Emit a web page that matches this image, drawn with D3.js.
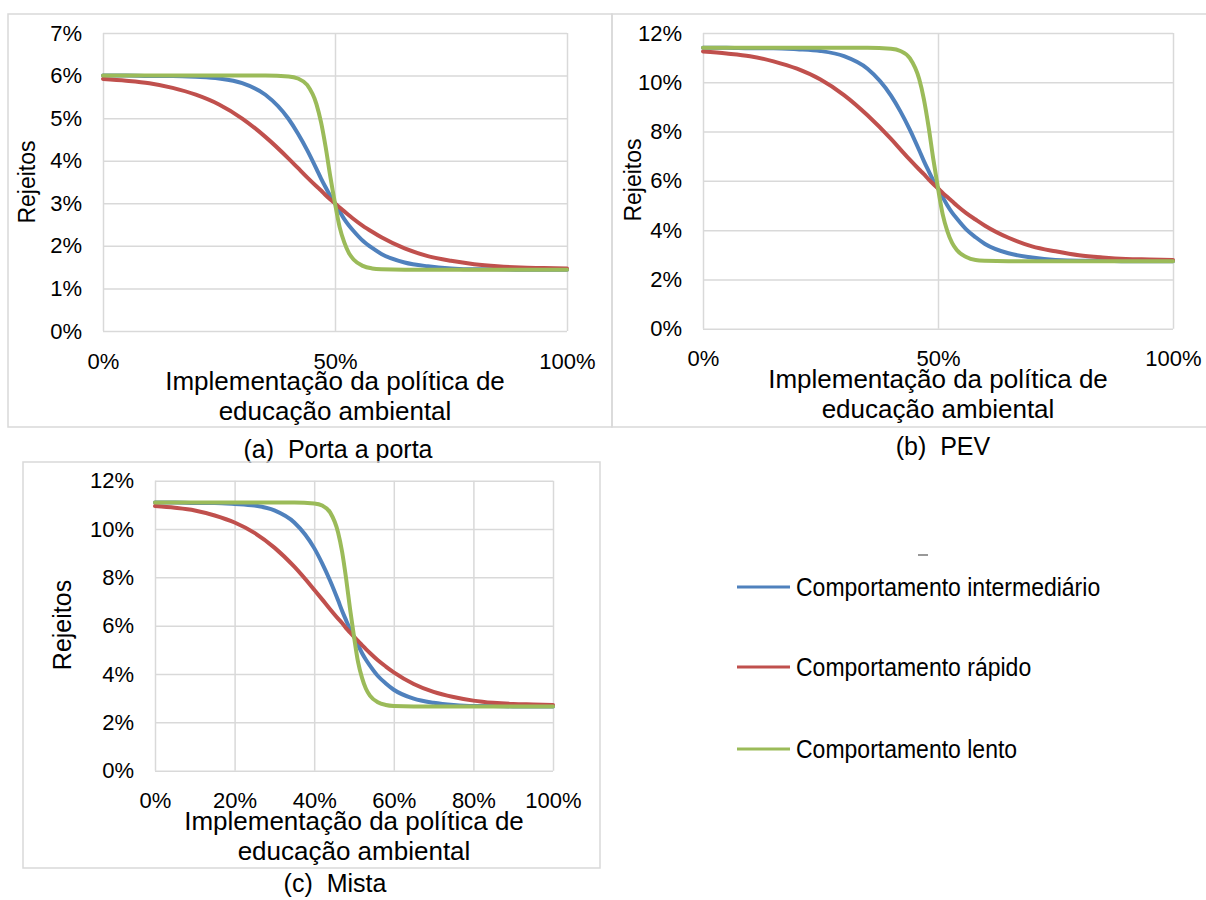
<!DOCTYPE html>
<html lang="pt">
  <head>
    <title>Rejeitos x educação ambiental</title>
    <meta charset="utf-8" />
    <script type="text/javascript" src="https://d3js.org/d3.v7.min.js"></script>
    <style>
      body { margin: 0; background: #fff; }
      text { font-family: "Liberation Sans", Arial, sans-serif; fill: #000; }
    </style>
  </head>

  <body>
    <div class="div_d3"></div>

    <script type="text/javascript">
      let w = 1206;
      let h = 900;

      // x values (% implementation) shared by all series
      let xPct = [0, 5, 10, 15, 20, 25, 30, 35, 40, 42, 44, 46, 47, 48, 49, 50,
        51, 52, 53, 54, 56, 58, 60, 65, 70, 75, 80, 85, 90, 95, 100];

      // (a) Porta a porta
      let portaIntermediario = [6.00, 6.00, 5.99, 5.99, 5.97, 5.93, 5.82, 5.55, 4.98, 4.64, 4.25, 3.81, 3.58, 3.37, 3.17, 3.00,
        2.81, 2.63, 2.48, 2.35, 2.12, 1.95, 1.81, 1.61, 1.52, 1.47, 1.45, 1.45, 1.44, 1.44, 1.44];
      let portaRapido = [5.92, 5.88, 5.82, 5.71, 5.55, 5.32, 4.99, 4.56, 4.05, 3.83, 3.61, 3.40, 3.30, 3.19, 3.09, 3.00,
        2.90, 2.81, 2.72, 2.63, 2.47, 2.33, 2.20, 1.94, 1.76, 1.65, 1.57, 1.52, 1.49, 1.48, 1.47];
      let portaLento = [6.00, 6.00, 6.00, 6.00, 6.00, 6.00, 6.00, 6.00, 5.98, 5.93, 5.78, 5.33, 4.90, 4.31, 3.62, 3.00,
        2.44, 2.08, 1.83, 1.68, 1.53, 1.47, 1.45, 1.44, 1.44, 1.44, 1.44, 1.44, 1.44, 1.44, 1.44];

      // (b) PEV
      let pevIntermediario = [11.40, 11.40, 11.38, 11.38, 11.34, 11.27, 11.06, 10.55, 9.46, 8.82, 8.08, 7.24, 6.80, 6.40, 6.02, 5.70,
        5.34, 5.00, 4.71, 4.47, 4.03, 3.71, 3.44, 3.06, 2.89, 2.79, 2.76, 2.76, 2.74, 2.74, 2.74];
      let pevRapido = [11.25, 11.17, 11.06, 10.85, 10.55, 10.11, 9.48, 8.66, 7.70, 7.28, 6.86, 6.46, 6.27, 6.06, 5.87, 5.70,
        5.51, 5.34, 5.17, 5.00, 4.69, 4.43, 4.18, 3.69, 3.34, 3.14, 2.98, 2.89, 2.83, 2.81, 2.79];
      let pevLento = [11.40, 11.40, 11.40, 11.40, 11.40, 11.40, 11.40, 11.40, 11.36, 11.27, 10.98, 10.13, 9.31, 8.19, 6.88, 5.70,
        4.64, 3.95, 3.48, 3.19, 2.91, 2.79, 2.76, 2.74, 2.74, 2.74, 2.74, 2.74, 2.74, 2.74, 2.74];

      // (c) Mista
      let mistaIntermediario = [11.10, 11.10, 11.08, 11.08, 11.04, 10.97, 10.77, 10.27, 9.21, 8.58, 7.86, 7.05, 6.62, 6.23, 5.86, 5.55,
        5.20, 4.87, 4.59, 4.35, 3.92, 3.61, 3.35, 2.98, 2.81, 2.72, 2.68, 2.68, 2.66, 2.66, 2.66];
      let mistaRapido = [10.95, 10.88, 10.77, 10.56, 10.27, 9.84, 9.23, 8.44, 7.49, 7.09, 6.68, 6.29, 6.11, 5.90, 5.72, 5.55,
        5.37, 5.20, 5.03, 4.87, 4.57, 4.31, 4.07, 3.59, 3.26, 3.05, 2.90, 2.81, 2.76, 2.74, 2.72];
      let mistaLento = [11.10, 11.10, 11.10, 11.10, 11.10, 11.10, 11.10, 11.10, 11.06, 10.97, 10.69, 9.86, 9.07, 7.97, 6.70, 5.55,
        4.51, 3.85, 3.39, 3.11, 2.83, 2.72, 2.68, 2.66, 2.66, 2.66, 2.66, 2.66, 2.66, 2.66, 2.66];

      // tick labels
      let yTicksA = [0, 1, 2, 3, 4, 5, 6, 7];
      let yTicksBC = [0, 2, 4, 6, 8, 10, 12];
      let xTicksAB = [0, 50, 100];
      let xTicksC = [0, 20, 40, 60, 80, 100];

      let seriesNames = ["Comportamento intermediário", "Comportamento rápido", "Comportamento lento"];
      let colors = ["#4f81bd", "#c0504d", "#9bbb59"];

      let svg = d3
        .select(".div_d3")
        .append("svg")
        .attr("width", w)
        .attr("height", h);

      let gridColor = "#d9d9d9";

      let panels = [
        {
          caption: "(a)\u00a0 Porta a porta",
          box: [8, 14, 612, 427],
          plot: [103, 33, 567, 331],
          yMax: 7, yTicks: yTicksA, xTicks: xTicksAB,
          series: [portaIntermediario, portaRapido, portaLento],
          yTitle: [27, 182], yTitleSize: 23, xTitleX: 335, captionX: 338, captionDy: 118,
        },
        {
          caption: "(b)\u00a0 PEV",
          box: [612, 14, 1212, 427],
          plot: [703, 33, 1173, 328.7],
          yMax: 12, yTicks: yTicksBC, xTicks: xTicksAB,
          series: [pevIntermediario, pevRapido, pevLento],
          yTitle: [633, 180], yTitleSize: 23, xTitleX: 938, captionX: 943, captionDy: 118,
        },
        {
          caption: "(c)\u00a0 Mista",
          box: [23, 462, 600, 868],
          plot: [155, 480.7, 553, 770.7],
          yMax: 12, yTicks: yTicksBC, xTicks: xTicksC,
          series: [mistaIntermediario, mistaRapido, mistaLento],
          yTitle: [62, 625], yTitleSize: 25, xTitleX: 354, captionX: 335, captionDy: 113,
        },
      ];

      panels.forEach(function (p) {
        let g = svg.append("g");

        // outer frame
        g.append("rect")
          .attr("x", p.box[0])
          .attr("y", p.box[1])
          .attr("width", p.box[2] - p.box[0])
          .attr("height", p.box[3] - p.box[1])
          .attr("fill", "none")
          .attr("stroke", gridColor)
          .attr("stroke-width", 1.5);

        let x = d3.scaleLinear().domain([0, 100]).range([p.plot[0], p.plot[2]]);
        let y = d3.scaleLinear().domain([0, p.yMax]).range([p.plot[3], p.plot[1]]);
        let pw = p.plot[2] - p.plot[0];
        let ph = p.plot[3] - p.plot[1];

        // gridlines
        let gy = g.append("g")
          .attr("transform", `translate(${p.plot[0]},0)`)
          .call(d3.axisLeft(y).tickValues(p.yTicks).tickSize(-pw).tickFormat(""));
        let gx = g.append("g")
          .attr("transform", `translate(0,${p.plot[3]})`)
          .call(d3.axisBottom(x).tickValues(p.xTicks).tickSize(-ph).tickFormat(""));
        [gy, gx].forEach(function (a) {
          a.select(".domain").remove();
          a.selectAll("line").attr("stroke", gridColor).attr("stroke-width", 1.5);
        });

        // tick labels
        let ly = g.append("g")
          .attr("transform", `translate(${p.plot[0]},0)`)
          .call(d3.axisLeft(y).tickValues(p.yTicks).tickSize(0).tickPadding(21)
            .tickFormat(function (d) { return d + "%"; }));
        let lx = g.append("g")
          .attr("transform", `translate(0,${p.plot[3]})`)
          .call(d3.axisBottom(x).tickValues(p.xTicks).tickSize(0).tickPadding(22)
            .tickFormat(function (d) { return d + "%"; }));
        [ly, lx].forEach(function (a) {
          a.select(".domain").remove();
          a.selectAll("text")
            .style("font-family", '"Liberation Sans", Arial, sans-serif')
            .style("font-size", "22px")
            .attr("fill", "#000");
        });

        // curves
        let line = d3.line()
          .x(function (d, i) { return x(xPct[i]); })
          .y(function (d) { return y(d); })
          .curve(d3.curveMonotoneX);

        g.selectAll(".serie")
          .data(p.series)
          .join("path")
          .attr("class", "serie")
          .attr("d", line)
          .attr("fill", "none")
          .attr("stroke", function (d, i) { return colors[i]; })
          .attr("stroke-width", 4)
          .attr("stroke-linecap", "round");

        // axis titles
        g.append("text")
          .attr("transform", `translate(${p.yTitle[0]},${p.yTitle[1]}) rotate(-90)`)
          .attr("text-anchor", "middle")
          .attr("dy", "0.35em")
          .style("font-size", p.yTitleSize + "px")
          .text("Rejeitos");

        let xt = g.append("text")
          .attr("text-anchor", "middle")
          .style("font-size", "26px");
        xt.append("tspan")
          .attr("x", p.xTitleX)
          .attr("y", p.plot[3] + 50)
          .attr("dy", "0.35em")
          .text("Implementação da política de");
        xt.append("tspan")
          .attr("x", p.xTitleX)
          .attr("y", p.plot[3] + 80)
          .attr("dy", "0.35em")
          .text("educação ambiental");

        g.append("text")
          .attr("x", p.captionX)
          .attr("y", p.plot[3] + p.captionDy)
          .attr("dy", "0.35em")
          .attr("text-anchor", "middle")
          .style("font-size", "25px")
          .text(p.caption);
      });

      // shared legend
      let legendY = [587, 667, 749];
      let legend = svg.append("g");

      legend.append("line")
        .attr("x1", 918).attr("x2", 928)
        .attr("y1", 555).attr("y2", 555)
        .attr("stroke", "#777")
        .attr("stroke-width", 1.5);

      let items = legend.selectAll(".item")
        .data(seriesNames)
        .join("g")
        .attr("class", "item")
        .attr("transform", function (d, i) { return `translate(737,${legendY[i]})`; });

      items.append("line")
        .attr("x1", 0).attr("x2", 53)
        .attr("stroke", function (d, i) { return colors[i]; })
        .attr("stroke-width", 3);

      items.append("text")
        .attr("transform", "translate(59,0) scale(0.92,1)")
        .attr("dy", "0.35em")
        .style("font-size", "25px")
        .attr("fill", "#1a1a1a")
        .text(function (d) { return d; });
    </script>
  </body>
</html>
